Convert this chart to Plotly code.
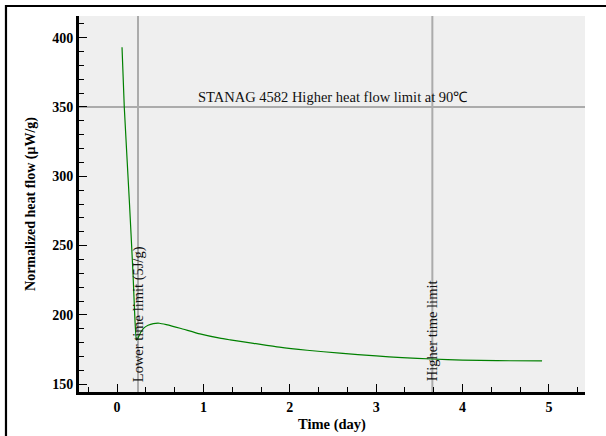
import plotly.graph_objects as go

# Data
time_day = [0.058, 0.084, 0.142, 0.185, 0.208, 0.225, 0.24, 0.27, 0.31, 0.36, 0.42, 0.49,
            0.57, 0.73, 0.96, 1.19, 1.31, 1.58, 1.88, 2.2, 2.58, 3.0, 3.3, 3.65, 4.0, 4.4, 4.92]
heat_flow = [393, 350, 283, 230, 196, 182, 183, 187, 190.5, 192.5, 193.7, 194,
             193, 190.4, 186.3, 183.2, 182, 179.5, 176.7, 174.5, 172.4, 170.4, 169.2, 168.2, 167.4, 167.0, 166.8]

lower_time_limit = 0.243
higher_time_limit = 3.65
heat_flow_limit = 350

x_ticks = [0, 1, 2, 3, 4, 5]
y_ticks = [150, 200, 250, 300, 350, 400]

serif = "Liberation Serif, Times New Roman, serif"
ref_color = "#ababab"

fig = go.Figure()
fig.add_trace(go.Scatter(x=time_day, y=heat_flow, mode="lines",
                         line=dict(color="#008000", width=1.2, shape="spline", smoothing=0.5),
                         showlegend=False, hoverinfo="skip"))

# reference lines
fig.add_shape(type="line", xref="x", yref="paper", x0=lower_time_limit, x1=lower_time_limit,
              y0=0, y1=1, line=dict(color=ref_color, width=2), layer="below")
fig.add_shape(type="line", xref="x", yref="paper", x0=higher_time_limit, x1=higher_time_limit,
              y0=0, y1=1, line=dict(color=ref_color, width=2), layer="below")
fig.add_shape(type="line", xref="paper", yref="y", x0=0, x1=1,
              y0=heat_flow_limit, y1=heat_flow_limit, line=dict(color=ref_color, width=2), layer="below")

# outer frame
fig.add_shape(type="rect", xref="paper", yref="paper", x0=-0.1443, x1=1.2, y0=-0.3, y1=1.0266,
              line=dict(color="black", width=2.2), fillcolor="rgba(0,0,0,0)")

fig.add_annotation(x=2.5, y=heat_flow_limit, xref="x", yref="y", yanchor="bottom", yshift=0,
                   text="STANAG 4582 Higher heat flow limit at 90℃", showarrow=False,
                   font=dict(family=serif, size=14.5, color="#111"))
fig.add_annotation(x=lower_time_limit, y=200.5, xref="x", yref="y", textangle=-90,
                   text="Lower time limit (5J/g)", showarrow=False,
                   font=dict(family=serif, size=14.5, color="#111"))
fig.add_annotation(x=higher_time_limit, y=188.5, xref="x", yref="y", textangle=-90,
                   text="Higher time limit", showarrow=False,
                   font=dict(family=serif, size=14.5, color="#111"))

fig.update_layout(
    width=606, height=436,
    margin=dict(l=79, r=21, t=16, b=44),
    paper_bgcolor="white", plot_bgcolor="#efefef",
    font=dict(family=serif, size=14, color="black"),
    xaxis=dict(range=[-0.44, 5.417], tickvals=x_ticks, ticks="inside", ticklen=8, tickwidth=1.2,
               tickcolor="black", showgrid=False, zeroline=False, showline=True, linecolor="black",
               linewidth=3, automargin=False,
               tickfont=dict(family=serif, size=14, color="black", weight="bold"),
               minor=dict(dtick=1/3, tick0=0, ticks="inside", ticklen=5, tickcolor="black", tickwidth=1, showgrid=False),
               title=dict(text="Time (day)", font=dict(family=serif, size=14.5, weight="bold"), standoff=6)),
    yaxis=dict(range=[144.4, 415.6], tickvals=y_ticks, ticks="inside", ticklen=8, tickwidth=1.2,
               tickcolor="black", showgrid=False, zeroline=False, showline=True, linecolor="black",
               linewidth=3, automargin=False,
               tickfont=dict(family=serif, size=14, color="black", weight="bold"),
               minor=dict(dtick=10, tick0=0, ticks="inside", ticklen=5, tickcolor="black", tickwidth=1, showgrid=False),
               title=dict(text="Normalized heat flow (μW/g)", font=dict(family=serif, size=14, weight="bold"), standoff=14)),
)

fig.write_html("out.html")
